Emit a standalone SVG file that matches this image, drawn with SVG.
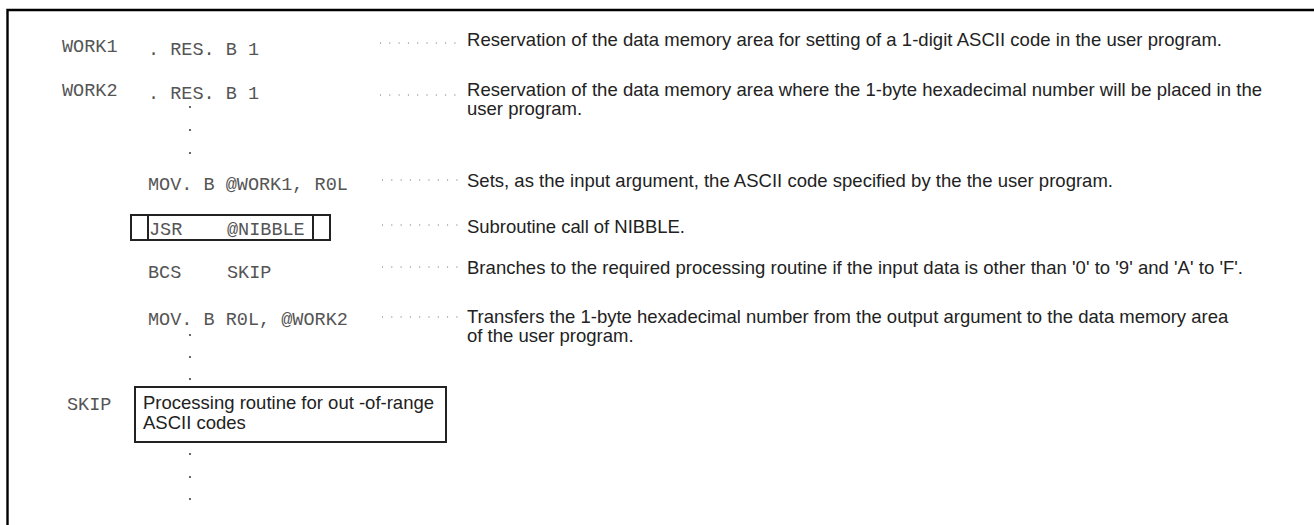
<svg xmlns="http://www.w3.org/2000/svg" width="1314" height="525" viewBox="0 0 1314 525">
  <style>
    .code { font-family: "Liberation Mono", "Courier New", monospace; font-size: 18.5px; fill: #555; }
    .desc { font-family: "Liberation Sans", Arial, sans-serif; font-size: 18.5px; fill: #222; }
    .leader { stroke: #666; stroke-width: 1.1; stroke-dasharray: 1 8.3; fill: none; }
    .frame { stroke: #000; stroke-width: 2.4; fill: none; }
    .box { stroke: #222; stroke-width: 2; fill: none; }
    .vdot { fill: #444; }
  </style>
  <rect width="1314" height="525" fill="#fff"/>

  <!-- outer frame (open to the right and bottom) -->
  <path class="frame" d="M7.5,525 V10 H1314"/>

  <!-- leader dots between code and comments -->
  <g id="connectors">
    <path class="leader" d="M380,43 h78"/>
    <path class="leader" d="M380,95 h78"/>
    <path class="leader" d="M382,180 h78"/>
    <path class="leader" d="M382,225 h78"/>
    <path class="leader" d="M382,267 h78"/>
    <path class="leader" d="M382,317 h78"/>
  </g>

  <g id="work1">
    <text class="code" x="62" y="52">WORK1</text>
    <text class="code" x="148" y="55">. RES. B 1</text>
    <text class="desc" x="467" y="46" textLength="755">Reservation of the data memory area for setting of a 1-digit ASCII code in the user program.</text>
  </g>

  <g id="work2">
    <text class="code" x="62" y="96">WORK2</text>
    <text class="code" x="148" y="99">. RES. B 1</text>
    <text class="desc" x="467" y="96" textLength="795">Reservation of the data memory area where the 1-byte hexadecimal number will be placed in the</text>
    <text class="desc" x="467" y="115">user program.</text>
  </g>

  <g id="ellipsis1">
    <circle class="vdot" cx="190" cy="107" r="1.1"/>
    <circle class="vdot" cx="190" cy="130" r="1.1"/>
    <circle class="vdot" cx="190" cy="153" r="1.1"/>
  </g>

  <g id="mov-in">
    <text class="code" x="148" y="190">MOV. B @WORK1, R0L</text>
    <text class="desc" x="467" y="187" textLength="646">Sets, as the input argument, the ASCII code specified by the the user program.</text>
  </g>

  <g id="jsr">
    <rect class="box" x="131" y="215" width="199" height="25"/>
    <line class="box" x1="148" y1="215" x2="148" y2="240"/>
    <line class="box" x1="313" y1="215" x2="313" y2="240"/>
    <text class="code" x="149" y="235">JSR</text>
    <text class="code" x="227" y="235">@NIBBLE</text>
    <text class="desc" x="467" y="233" textLength="218">Subroutine call of NIBBLE.</text>
  </g>

  <g id="bcs">
    <text class="code" x="148" y="278">BCS</text>
    <text class="code" x="227" y="278">SKIP</text>
    <text class="desc" x="467" y="274" textLength="776">Branches to the required processing routine if the input data is other than '0' to '9' and 'A' to 'F'.</text>
  </g>

  <g id="mov-out">
    <text class="code" x="148" y="325">MOV. B R0L, @WORK2</text>
    <text class="desc" x="467" y="323">Transfers the 1-byte hexadecimal number from the output argument to the data memory area</text>
    <text class="desc" x="467" y="342">of the user program.</text>
  </g>

  <g id="ellipsis2">
    <circle class="vdot" cx="190" cy="335" r="1.1"/>
    <circle class="vdot" cx="190" cy="357" r="1.1"/>
    <circle class="vdot" cx="190" cy="379" r="1.1"/>
  </g>

  <g id="skip">
    <text class="code" x="67" y="410">SKIP</text>
    <rect class="box" x="135" y="387" width="311" height="55"/>
    <text class="desc" x="143" y="409">Processing routine for out -of-range</text>
    <text class="desc" x="143" y="429">ASCII codes</text>
  </g>

  <g id="ellipsis3">
    <circle class="vdot" cx="190" cy="454" r="1.1"/>
    <circle class="vdot" cx="190" cy="477" r="1.1"/>
    <circle class="vdot" cx="190" cy="499" r="1.1"/>
  </g>
</svg>
